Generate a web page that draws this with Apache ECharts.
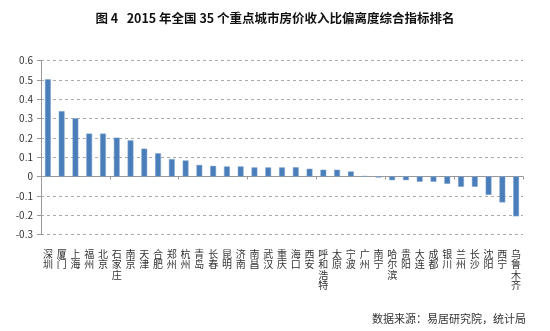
<!DOCTYPE html>
<html>
<head>
<meta charset="utf-8">
<script src="https://cdn.jsdelivr.net/npm/echarts@6/dist/echarts.min.js"></script>
<style>html,body{margin:0;padding:0;background:#fff;}#c{width:550px;height:331px;}</style>
</head>
<body>
<div id="c"></div>
<script>
const titleText = '图 4   2015 年全国 35 个重点城市房价收入比偏离度综合指标排名';
const sourceText = '数据来源：易居研究院，统计局';
const cities = ['深圳','厦门','上海','福州','北京','石家庄','南京','天津','合肥','郑州','杭州','青岛','长春','昆明','济南','南昌','武汉','重庆','海口','西安','呼和浩特','太原','宁波','广州','南宁','哈尔滨','贵阳','大连','成都','银川','兰州','长沙','沈阳','西宁','乌鲁木齐'];
const values = [0.503,0.338,0.301,0.222,0.222,0.201,0.187,0.144,0.120,0.090,0.083,0.060,0.055,0.052,0.052,0.047,0.047,0.047,0.048,0.040,0.035,0.035,0.026,0.002,-0.005,-0.019,-0.019,-0.027,-0.027,-0.038,-0.053,-0.053,-0.095,-0.134,-0.206];
const yMin = -0.3, yMax = 0.6, yStep = 0.1;

const chart = echarts.init(document.getElementById('c'));
const font = '"Noto Sans CJK SC", "Noto Sans", sans-serif';
chart.setOption({
  animation: false,
  backgroundColor: '#fff',
  title: {
    text: titleText,
    left: 'center',
    top: 7,
    textStyle: {fontFamily: font, fontSize: 12.5, fontWeight: 'bold', color: '#111'}
  },
  graphic: [{
    type: 'text', left: 372, top: 313,
    style: {text: sourceText, font: '11px ' + font, fill: '#333'}
  }],
  grid: {left: 41, right: 27, top: 60.5, bottom: 96.5, containLabel: false},
  xAxis: [{
    type: 'category', data: cities,
    axisLine: {onZero: true, lineStyle: {color: '#999', width: 1}},
    axisTick: {show: true, length: 3, inside: false, lineStyle: {color: '#999'}},
    axisLabel: {show: false},
    splitLine: {show: false}
  }, {
    type: 'category', data: cities, position: 'bottom',
    axisLine: {show: false, onZero: false},
    axisTick: {show: false},
    axisLabel: {
      show: true, interval: 0, margin: 14,
      fontFamily: font, fontSize: 10, color: '#333', lineHeight: 10.5,
      formatter: v => v.split('').join('\n')
    },
    splitLine: {show: false}
  }],
  yAxis: {
    type: 'value', min: yMin, max: yMax, interval: yStep,
    axisLine: {show: true, lineStyle: {color: '#999'}},
    axisTick: {show: true, length: 4, lineStyle: {color: '#999'}},
    axisLabel: {
      fontFamily: font, fontSize: 10, color: '#333', margin: 8,
      formatter: v => String(Math.round(v * 10) / 10)
    },
    splitLine: {show: true, lineStyle: {color: '#aaa', type: [3, 3], width: 1}}
  },
  series: [{
    type: 'bar', xAxisIndex: 0, data: values, barWidth: '42%',
    itemStyle: {color: '#4A7EBB', borderColor: '#7BA0CD', borderWidth: 0.5}
  }]
});
</script>
</body>
</html>
